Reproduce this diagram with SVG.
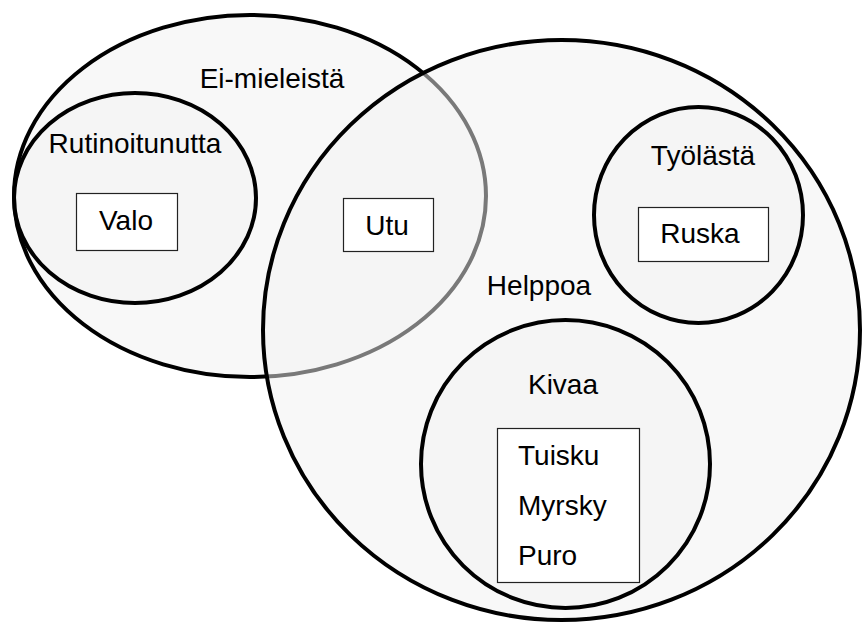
<svg xmlns="http://www.w3.org/2000/svg" width="863" height="625" viewBox="0 0 863 625">
<style>
.set{fill:#f2f2f2;fill-opacity:0.5;stroke:#000;stroke-width:4}
.box{fill:#fff;stroke:#222;stroke-width:1.2}
text{font-family:"Liberation Sans",Arial,sans-serif;font-size:28px;fill:#000}
.c{text-anchor:middle}
</style>
<rect width="863" height="625" fill="#fff"/>
<g id="ei-mieleista">
<ellipse class="set" cx="250" cy="196" rx="236" ry="181"/>
<text class="c" x="272" y="88">Ei-mieleistä</text>
</g>
<g id="rutinoitunutta">
<ellipse class="set" cx="135" cy="198" rx="121" ry="105"/>
<text class="c" x="135" y="153">Rutinoitunutta</text>
</g>
<g id="valo">
<rect class="box" x="76.5" y="193.5" width="101" height="57"/>
<text class="c" x="126" y="230">Valo</text>
</g>
<g id="helppoa">
<ellipse class="set" cx="561.5" cy="330" rx="298.5" ry="290"/>
<text class="c" x="539" y="295">Helppoa</text>
</g>
<g id="utu">
<rect class="box" x="343.5" y="198.5" width="90" height="53"/>
<text class="c" x="387" y="235">Utu</text>
</g>
<g id="tyolasta">
<ellipse class="set" cx="698.5" cy="215" rx="104.5" ry="108"/>
<text class="c" x="703" y="165">Työlästä</text>
</g>
<g id="ruska">
<rect class="box" x="638.5" y="207.5" width="130" height="54"/>
<text class="c" x="700" y="243">Ruska</text>
</g>
<g id="kivaa">
<ellipse class="set" cx="565.5" cy="464" rx="144.5" ry="144"/>
<text class="c" x="563" y="394">Kivaa</text>
</g>
<g id="kivaa-items">
<rect class="box" x="497.5" y="428.5" width="142" height="154"/>
<text x="518" y="465">Tuisku</text>
<text x="518" y="515">Myrsky</text>
<text x="518" y="565">Puro</text>
</g>
<g id="connectors"/>
</svg>
